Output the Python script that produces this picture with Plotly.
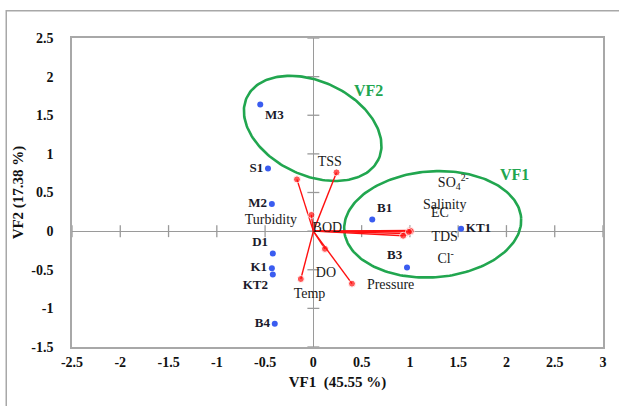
import numpy as np
import plotly.graph_objects as go

# ---- sample scores (VF1, VF2) ----
sites = ["M3", "S1", "M2", "D1", "K1", "KT2", "B4", "B1", "B3", "KT1"]
site_vf1 = [-0.55, -0.47, -0.43, -0.42, -0.43, -0.42, -0.40, 0.61, 0.97, 1.53]
site_vf2 = [1.64, 0.81, 0.35, -0.29, -0.48, -0.56, -1.20, 0.15, -0.47, 0.03]
site_textpos = ["bottom right", "middle left", "middle left", "top left", "middle left",
                "bottom left", "middle left", "top right", "top left", "middle right"]

# ---- variable loadings (VF1, VF2) ----
variables = ["TSS", "Turbidity", "BOD", "DO", "Temp", "Pressure",
             "SO<sub>4</sub><sup>2-</sup>", "Salinity", "EC", "TDS", "Cl<sup>-</sup>"]
load_vf1 = [0.24, -0.17, -0.02, 0.12, -0.13, 0.40, 0.95, 1.00, 1.01, 0.99, 0.93]
load_vf2 = [0.76, 0.67, 0.21, -0.23, -0.62, -0.68, -0.03, 0.01, 0.00, -0.01, -0.06]
# where each variable name is written
var_label_x = [0.17, -0.44, 0.145, 0.13, -0.04, 0.80, 1.45, 1.36, 1.31, 1.36, 1.37]
var_label_y = [0.89, 0.14, 0.04, -0.55, -0.82, -0.71, 0.62, 0.33, 0.23, -0.08, -0.37]

x_ticks = [-2.5, -2, -1.5, -1, -0.5, 0, 0.5, 1, 1.5, 2, 2.5, 3]
y_ticks = [-1.5, -1, -0.5, 0, 0.5, 1, 1.5, 2, 2.5]

X_RANGE = [-2.5, 3.0]
Y_RANGE = [-1.5, 2.5]
W, H = 619, 406
M = dict(l=72, r=14, t=38, b=59)
PX_X = (W - M["l"] - M["r"]) / (X_RANGE[1] - X_RANGE[0])
PX_Y = (H - M["t"] - M["b"]) / (Y_RANGE[1] - Y_RANGE[0])

SERIF = "Liberation Serif, Times New Roman, serif"
GREEN = "#21a64f"
GRID = "#9a9a9a"

fig = go.Figure()

# factor grouping ellipses: centre (data), semi-axes (px), tilt (deg, clockwise)
def ellipse(cx, cy, a_px, b_px, tilt_deg):
    t = np.linspace(0, 2 * np.pi, 200)
    th = np.radians(tilt_deg)
    dx = a_px * np.cos(th) * np.cos(t) - b_px * np.sin(th) * np.sin(t)
    dy = a_px * np.sin(th) * np.cos(t) + b_px * np.cos(th) * np.sin(t)
    return cx + dx / PX_X, cy - dy / PX_Y

for cx, cy, a, b, tilt in [(-0.007, 1.33, 73, 47, 25), (1.236, 0.088, 89, 53, -4)]:
    ex, ey = ellipse(cx, cy, a, b, tilt)
    fig.add_trace(go.Scatter(x=ex, y=ey, mode="lines",
                             line=dict(color=GREEN, width=2.6),
                             hoverinfo="skip", showlegend=False))

# loading vectors from the origin
for vx, vy in zip(load_vf1, load_vf2):
    fig.add_trace(go.Scatter(x=[0, vx], y=[0, vy], mode="lines+markers",
                             line=dict(color="#ff1010", width=1.4),
                             marker=dict(color="#ff1010", size=[0, 7]),
                             hoverinfo="skip", showlegend=False))

# variable names
fig.add_trace(go.Scatter(x=var_label_x, y=var_label_y, mode="text", text=variables,
                         textfont=dict(family=SERIF, size=14, color="#1a1a1a"),
                         hoverinfo="skip", showlegend=False))

# sample scores
fig.add_trace(go.Scatter(x=site_vf1, y=site_vf2, mode="markers+text",
                         text=[f"<b>{s}</b>" for s in sites], textposition=site_textpos,
                         marker=dict(color="#3a5cf0", size=6),
                         textfont=dict(family=SERIF, size=13, color="#1a1a2a"),
                         hoverinfo="skip", showlegend=False))

# group labels
fig.add_annotation(x=0.57, y=1.82, text="<b>VF2</b>", showarrow=False,
                   font=dict(family=SERIF, size=16, color=GREEN))
fig.add_annotation(x=2.08, y=0.73, text="<b>VF1</b>", showarrow=False,
                   font=dict(family=SERIF, size=16, color=GREEN))

# tick marks crossing the zero axes
for xv in x_ticks:
    fig.add_shape(type="line", x0=xv, x1=xv, y0=-6 / PX_Y, y1=6 / PX_Y,
                  line=dict(color=GRID, width=1.3), layer="below")
for yv in y_ticks:
    fig.add_shape(type="line", y0=yv, y1=yv, x0=-6 / PX_X, x1=6 / PX_X,
                  line=dict(color=GRID, width=1.3), layer="below")

# outer chart frame
fig.add_shape(type="rect", xref="paper", yref="paper",
              x0=(6 - M["l"]) / (W - M["l"] - M["r"]), x1=1.1,
              y0=-0.3, y1=1 + (M["t"] - 10.7) / (H - M["t"] - M["b"]),
              line=dict(color="#a8a8a8", width=1.5), layer="below")

axis_common = dict(showgrid=False, zeroline=True, zerolinecolor=GRID, zerolinewidth=1.3,
                   showline=True, mirror=True, linecolor="#a8a8a8", linewidth=1.5,
                   ticks="", tickfont=dict(family=SERIF, size=14, color="#111111"),
                   fixedrange=True)

fig.update_layout(
    width=W, height=H, margin=M,
    paper_bgcolor="white", plot_bgcolor="white",
    xaxis=dict(range=X_RANGE, tickvals=x_ticks,
               ticktext=[f"<b>{v:g}</b>" for v in x_ticks], ticklabelstandoff=1,
               title=dict(text="<b>VF1  (45.55 %)</b>", standoff=8,
                          font=dict(family=SERIF, size=15, color="#111111")),
               **axis_common),
    yaxis=dict(range=Y_RANGE, tickvals=y_ticks,
               ticktext=[f"<b>{v:g}</b>" for v in y_ticks], ticklabelstandoff=14,
               title=dict(text="<b>VF2 (17.38 %)</b>", standoff=4,
                          font=dict(family=SERIF, size=15, color="#111111")),
               **axis_common),
    showlegend=False,
)

fig.write_html("out.html")
